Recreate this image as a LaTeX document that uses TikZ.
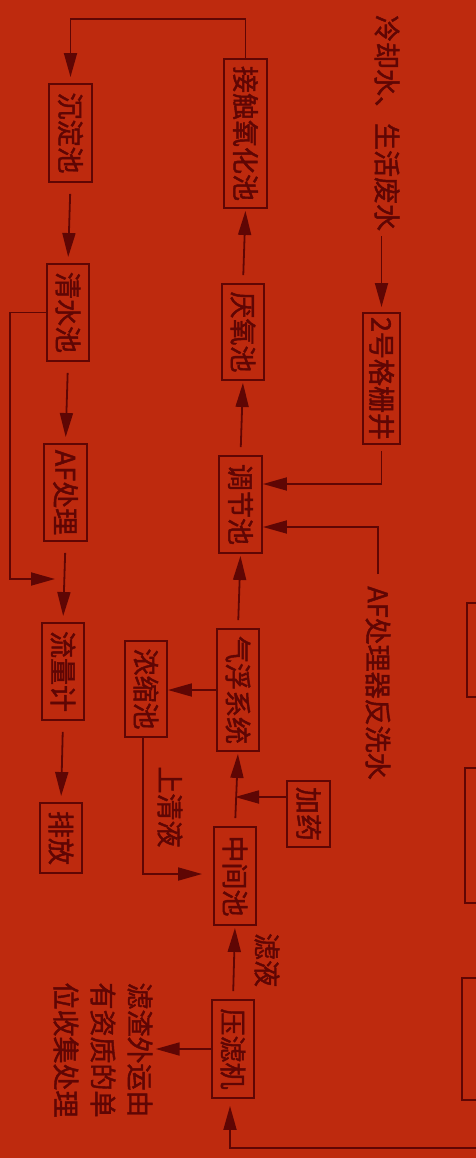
\documentclass[tikz,border=0pt]{standalone}
\usepackage{fontspec}
\usepackage{graphicx}
\newfontfamily\cjk{Noto Sans CJK SC}[BoldFont={Noto Sans CJK SC},BoldFeatures={FakeBold=1.6}]
\usetikzlibrary{arrows.meta}
\definecolor{bg}{RGB}{190,42,14}
\definecolor{ink}{RGB}{95,6,4}
\begin{document}
\begin{tikzpicture}[x=1pt,y=-1pt,
  box/.style={draw=ink,line width=1.9pt,inner sep=0pt,text=ink,font=\cjk\bfseries\fontsize{27}{27}\selectfont},
  lbl/.style={text=ink,inner sep=0pt,rotate=-90,font=\cjk\bfseries\fontsize{27}{27}\selectfont},
  arr/.style={draw=ink,line width=1.8pt,-{Triangle[length=24pt,width=13pt]}},
  darr/.style={arr,shorten <=11pt,shorten >=6pt},
  uarr/.style={arr,shorten <=8pt,shorten >=2pt}]
\useasboundingbox (0,0) rectangle (476,1158);
\fill[bg] (0,0) rectangle (476,1158);

% boxes
\node[box,minimum width=43pt,minimum height=98pt]  (cdc) at (70.5,133)   {\rotatebox{-90}{沉淀池}};
\node[box,minimum width=43pt,minimum height=149pt] (jc)  at (245.5,133.5) {\rotatebox{-90}{接触氧化池}};
\node[box,minimum width=42pt,minimum height=97pt]  (qs)  at (68,312.5)   {\rotatebox{-90}{清水池}};
\node[box,minimum width=42pt,minimum height=96pt]  (yy)  at (243,332)    {\rotatebox{-90}{厌氧池}};
\node[box,minimum width=37pt,minimum height=131pt] (gs)  at (381.5,378.5) {\rotatebox{-90}{2号格栅井}};
\node[box,minimum width=43pt,minimum height=97pt]  (af)  at (65.5,492.5)  {\rotatebox{-90}{AF处理}};
\node[box,minimum width=43pt,minimum height=97pt]  (tj)  at (240.5,504.5) {\rotatebox{-90}{调节池}};
\node[box,minimum width=42pt,minimum height=97pt]  (ll)  at (63,671.5)   {\rotatebox{-90}{流量计}};
\node[box,minimum width=42pt,minimum height=96pt]  (ns)  at (146,689)    {\rotatebox{-90}{浓缩池}};
\node[box,minimum width=42pt,minimum height=122pt] (qf)  at (238,690)    {\rotatebox{-90}{气浮系统}};
\node[box,minimum width=42pt,minimum height=70pt]  (pf)  at (61,838)     {\rotatebox{-90}{排放}};
\node[box,minimum width=43pt,minimum height=66pt]  (jy)  at (308.5,814)  {\rotatebox{-90}{加药}};
\node[box,minimum width=42pt,minimum height=98pt]  (zj)  at (235,876)    {\rotatebox{-90}{中间池}};
\node[box,minimum width=42pt,minimum height=98pt]  (ylj) at (233,1049)   {\rotatebox{-90}{压滤机}};

% labels
\node[lbl] (lq)  at (387,123) {冷却水、生活废水};
\node[lbl] (afx) at (378,683) {AF处理器反洗水};
\node[lbl] (sqy) at (170,807) {上清液};
\node[lbl] (ly)  at (267,960) {滤液};
\node[lbl,align=left,font=\cjk\bfseries\fontsize{27}{37}\selectfont] (fz) at (103,1050) {滤渣外运由\\有资质的单\\位收集处理};

% partially visible boxes at the right edge
\begin{scope}
\clip (0,0) rectangle (476,1158);
\draw[ink,line width=1.9pt] (467,603) rectangle (500,697);
\draw[ink,line width=1.9pt] (465,768) rectangle (500,903);
\draw[ink,line width=1.9pt] (462,978) rectangle (500,1100);
\end{scope}

% coordinates
\coordinate (t1) at (245.5,19);
\coordinate (t2) at (70.5,19);
\coordinate (b1) at (10,312.5);
\coordinate (b2) at (10,579);
\coordinate (b3) at (64,579);
\coordinate (g1) at (381.5,484);
\coordinate (a1) at (378,527);
\coordinate (n1) at (143,874);
\coordinate (j1) at (235,797);
\coordinate (f1) at (476,1148);
\coordinate (f2) at (230,1148);

% connectors
\draw[arr,shorten >=6pt] (jc.north) -- (t1) -- (t2) -- (cdc.north);
\draw[darr] (cdc.south) -- (qs.north);
\draw[darr] (qs.south) -- (af.north);
\draw[darr] (af.south) -- (ll.north);
\draw[darr] (ll.south) -- (pf.north);
\draw[arr,shorten >=9pt] (qs.west) -- (b1) -- (b2) -- (b3);

\draw[arr,shorten <=5pt,shorten >=5pt] (gs.north |- lq.east) -- (gs.north);
\draw[arr,shorten <=6pt] (gs.south) -- (g1) -- (tj.east |- g1);
\draw[arr,shorten <=12pt] (afx.west) -- (a1) -- (tj.east |- a1);

\draw[uarr] (yy.north) -- (jc.south);
\draw[uarr] (tj.north) -- (yy.south);
\draw[uarr] (qf.north) -- (tj.south);
\draw[uarr] (zj.north) -- (qf.south);
\draw[uarr] (ylj.north) -- (zj.south);

\draw[arr] (qf.west) -- (qf.west -| ns.east);
\draw[arr,shorten >=11pt] (ns.south -| n1) -- (n1) -- (zj.west |- n1);
\draw[arr] (jy.west |- j1) -- (j1);
\draw[arr,shorten >=3pt] (ylj.west) -- (fz.north |- ylj.west);
\draw[arr,shorten >=7pt] (f1) -- (f2) -- (f2 |- ylj.south);
\end{tikzpicture}
\end{document}
